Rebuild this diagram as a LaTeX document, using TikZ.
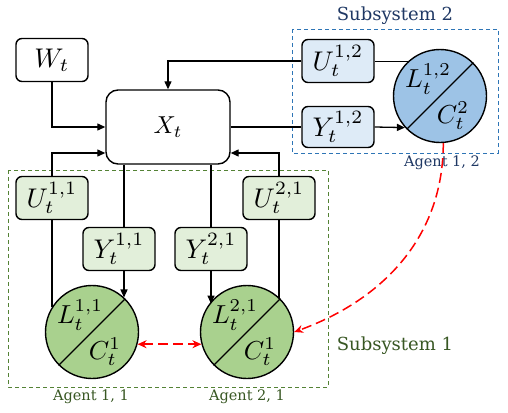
\documentclass[tikz,border=0pt]{standalone}
\usepackage{fontspec}
\usepackage{xcolor}
\usepackage{tikz}
\usetikzlibrary{arrows.meta, positioning, calc}

\newfontfamily\lblfont{DejaVu Serif}
\newcommand{\mvar}[2][2.7]{\scalebox{#1}{$#2$}}

\definecolor{boxgreen}{HTML}{E2EFDA}
\definecolor{agentgreen}{HTML}{A9D18E}
\definecolor{boxblue}{HTML}{DEEBF7}
\definecolor{agentblue}{HTML}{9DC3E6}
\definecolor{subgreen}{HTML}{548235}
\definecolor{subblue}{HTML}{2E75B6}
\definecolor{txtgreen}{HTML}{385723}
\definecolor{txtblue}{HTML}{1F3864}

\tikzset{
    varbox/.style={rectangle, rounded corners=6pt, draw=black, line width=1.4pt,
          minimum width=72pt, minimum height=43pt, inner sep=0pt},
    agent/.style={circle, draw=black, line width=1.4pt, minimum size=93pt, inner sep=0pt},
    agentlbl/.style={inner sep=0pt},
    sublbl/.style={font=\lblfont\fontsize{18}{20}\selectfont},
    agname/.style={font=\lblfont\fontsize{14.5}{16}\selectfont},
    subsys/.style={dashed, line width=0.8pt, dash pattern=on 4pt off 3pt},
    conn/.style={line width=1.3pt},
    arr/.style={conn, -{Triangle[length=8pt,width=7pt]}},
    redarr/.style={red, line width=1.5pt, dash pattern=on 10pt off 5pt, -{Stealth[length=9pt,width=8pt]}}
}

\begin{document}
\begin{tikzpicture}[x=1pt, y=-1pt]
    \useasboundingbox (0,0) rectangle (508,412);

    % subsystem frames
    \draw[subsys, draw=subgreen] (8,170) rectangle (328,387);
    \draw[subsys, draw=subblue] (292,29) rectangle (498,153);
    \node[sublbl, text=txtblue] (sub2) at (395,16) {Subsystem 2};
    \node[sublbl, text=txtgreen] (sub1) at (395,346) {Subsystem 1};

    \node[varbox, fill=white] (w) at (52,60) {\mvar{W_t}};
    \node[rectangle, rounded corners=12pt, draw=black, line width=1.4pt, fill=white,
          minimum width=124pt, minimum height=74pt] (x) at (168,127) {\mvar[2.45]{X_t}};

    \node[varbox, fill=boxblue] (u12) at (338,61) {\mvar{U_t^{1,2}}};
    \node[varbox, fill=boxblue, minimum height=41pt] (y12) at (338,127) {\mvar{Y_t^{1,2}}};
    \node[varbox, fill=boxgreen] (u11) at (52,198) {\mvar{U_t^{1,1}}};
    \node[varbox, fill=boxgreen] (u21) at (279,198) {\mvar{U_t^{2,1}}};
    \node[varbox, fill=boxgreen] (y11) at (119,249) {\mvar{Y_t^{1,1}}};
    \node[varbox, fill=boxgreen] (y21) at (211,249) {\mvar{Y_t^{2,1}}};

    % agents
    \node[agent, fill=agentblue] (c12) at (440,96) {};
    \node[agent, fill=agentgreen] (a11) at (92,332) {};
    \node[agent, fill=agentgreen] (a21) at (247,332) {};
    \foreach \a in {c12, a11, a21}
        \draw[conn] (\a.45) -- (\a.225);
    \node[agentlbl] (l12) at ($(c12)+(-12,-17)$) {\mvar[2.6]{L_t^{1,2}}};
    \node[agentlbl] (k12) at ($(c12)+(13,20)$) {\mvar[2.6]{C_t^{2}}};
    \node[agentlbl] (l11) at ($(a11)+(-12,-17)$) {\mvar[2.6]{L_t^{1,1}}};
    \node[agentlbl] (k11) at ($(a11)+(13,20)$) {\mvar[2.6]{C_t^{1}}};
    \node[agentlbl] (l21) at ($(a21)+(-12,-17)$) {\mvar[2.6]{L_t^{2,1}}};
    \node[agentlbl] (k21) at ($(a21)+(13,20)$) {\mvar[2.6]{C_t^{1}}};

    \node[agname, text=txtblue] (ag12) at (442,163) {Agent 1, 2};
    \node[agname, text=txtgreen] (ag11) at (91,397) {Agent 1, 1};
    \node[agname, text=txtgreen] (ag21) at (247,397) {Agent 2, 1};

    % plant
    \draw[arr] (w.south) |- (x.west);
    \draw[arr] (u11.north) |- ([yshift=-26pt]x.west);
    \draw[arr] (u21.north) |- ([yshift=-26pt]x.east);
    \draw[arr] (u12.west) -| (x.north);
    \draw[conn] (x.east) -- (y12.west);
    \draw[conn] ([xshift=5pt]y11.north) -- ([xshift=5pt]y11.north |- x.south);
    \draw[conn] (y21.north) -- (y21.north |- x.south);

    % agents to variables
    \draw[conn] (c12.133) -- (c12.133 -| u12.east);
    \draw[arr] (y12.east) -- (c12.222);
    \draw[conn] (u11.south) -- (u11.south |- a11.148);
    \draw[arr] ([xshift=5pt]y11.south) -- ([xshift=5pt]y11.south |- a11.47);
    \draw[arr] (y21.south) -- (y21.south |- a21.143);
    \draw[conn] (u21.south) -- (u21.south |- a21.46);

    % communication
    \draw[redarr, {Stealth[length=9pt,width=8pt]}-{Stealth[length=9pt,width=8pt]}] (a11.-15) -- (a21.195);
    \draw[redarr] (c12.-86) to[out=-90, in=20] (a21.east);
\end{tikzpicture}
\end{document}
